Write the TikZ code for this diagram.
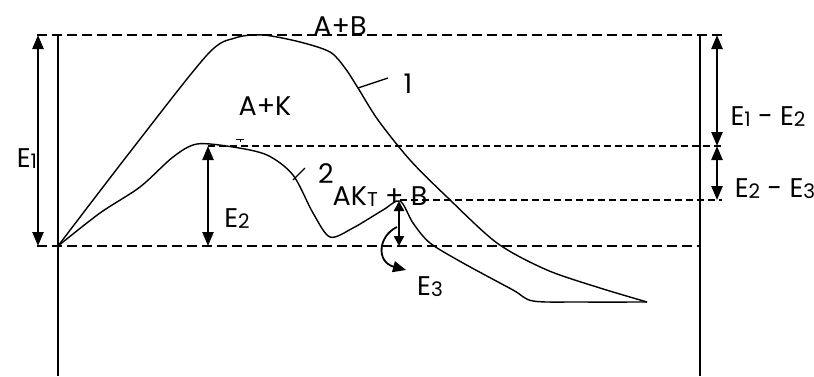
\documentclass[tikz,border=0pt]{standalone}
\usepackage{fontspec}
\setmainfont{Poppins}
\usetikzlibrary{arrows.meta, positioning}
\newcommand{\lvl}[1]{\raisebox{-1pt}{\fontsize{20}{22}\selectfont #1}}
\tikzset{
	guide/.style    ={dash pattern=on 10pt off 5pt, line width=1.3pt},
	guidefine/.style={dash pattern=on 7pt off 4pt, line width=1.1pt},
	axisline/.style ={line width=1.3pt},
	curve/.style    ={line width=1.4pt},
	dimarrow/.style ={{Triangle[length=14pt,width=11pt]}-{Triangle[length=14pt,width=11pt]}, line width=2.4pt},
	turnarrow/.style={-{Triangle[length=13pt,width=11pt]}, line width=1.8pt},
	lbl/.style      ={font=\fontsize{27}{31}\selectfont, inner sep=0pt, anchor=base},
}
\begin{document}
\begin{tikzpicture}[x=1pt, y=-1pt]
	\useasboundingbox (0,0) rectangle (814,376);
	% energy levels
	\coordinate (topL) at (37,35);   \coordinate (topR) at (722,35);
	\coordinate (midL) at (208,146); \coordinate (midR) at (722,146);
	\coordinate (lowL) at (400,200); \coordinate (lowR) at (722,200);
	\coordinate (botL) at (37,246);  \coordinate (botR) at (700,246);
	\draw[guide] (topL) -- (topR);
	\draw[guidefine] (midL) -- (midR);
	\draw[guidefine] (lowL) -- (lowR);
	\draw[guide] (botL) -- (botR);
	% axes
	\coordinate (axL0) at (58,35);  \coordinate (axL1) at (58,376);
	\coordinate (axR0) at (700,35); \coordinate (axR1) at (700,376);
	\draw[axisline] (axL0) -- (axL1);
	\draw[axisline] (axR0) -- (axR1);
	% path 1
	\draw[curve] plot[smooth, tension=0.5] coordinates {
		(58,246) (130,152) (207,55) (235,38) (263,35) (300,42) (330,52) (345,68)
		(358,88) (378,120) (410,160) (447,197) (497,243) (547,270) (600,288) (647,302)};
	% path 2
	\draw[curve] plot[smooth, tension=0.5] coordinates {
		(58,246) (100,213) (140,187) (173,157) (197,144) (233,147) (267,155) (293,175)
		(313,213) (330,237) (353,228) (383,210) (400,201) (413,223) (430,243) (463,263)
		(513,290) (533,301) (580,302) (647,302)};
	% markers
	\draw[line width=1.3pt] (358,88) -- (388,78);
	\draw[line width=1.3pt] (293,180) -- (305,168);
	\draw[line width=0.9pt] (236,139) -- (244,139) (240,139) -- (240,142);
	% dimension arrows
	\coordinate (e1a) at (38,35);   \coordinate (e1b) at (38,246);
	\coordinate (e2a) at (208,146); \coordinate (e2b) at (208,246);
	\coordinate (e3a) at (399,201); \coordinate (e3b) at (399,246);
	\coordinate (d1a) at (717,35);  \coordinate (d1b) at (717,146);
	\coordinate (d2a) at (717,146); \coordinate (d2b) at (717,200);
	\draw[dimarrow] (e1a) -- (e1b);
	\draw[dimarrow] (e2a) -- (e2b);
	\draw[dimarrow, {Triangle[length=10pt,width=10pt]}-{Triangle[length=10pt,width=10pt]}] (e3a) -- (e3b);
	\draw[dimarrow] (d1a) -- (d1b);
	\draw[dimarrow] (d2a) -- (d2b);
	\coordinate (t3a) at (397,227); \coordinate (t3b) at (406,270);
	\draw[turnarrow] (t3a) .. controls (378,236) and (376,262) .. (t3b);
	% labels
	\node[lbl] (lblAB) at (340,35) {A+B};
	\node[lbl] (lblAK) at (265,115) {A+K};
	\node[lbl] (lblOne) at (408,93) {1};
	\node[lbl] (lblTwo) at (326,183) {2};
	\node[lbl] (lblAKB) at (380,205) {AK\lvl{T} + B};
	\node[lbl] (lblE1) at (27,167) {E\lvl{1}};
	\node[lbl] (lblE2) at (237,227) {E\lvl{2}};
	\node[lbl] (lblE3) at (430,295) {E\lvl{3}};
	\node[lbl] (lblD1) at (768,125) {E\lvl{1} - E\lvl{2}};
	\node[lbl] (lblD2) at (775,197) {E\lvl{2} - E\lvl{3}};
\end{tikzpicture}
\end{document}
